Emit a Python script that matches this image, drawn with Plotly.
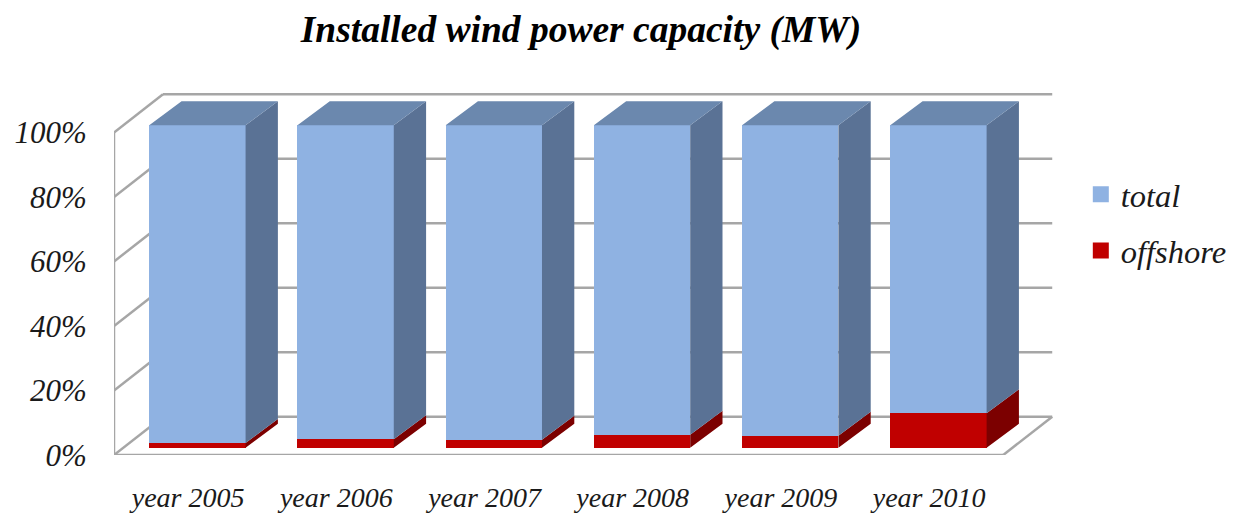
#!/usr/bin/env python3
"""
Installed wind power capacity, 3D looking 100% stacked columns
"""

import plotly.graph_objects as go

# Data
years = ['year 2005', 'year 2006', 'year 2007', 'year 2008', 'year 2009', 'year 2010']
offshore = [1.5, 2.6, 2.5, 4.0, 3.7, 10.7]
total = [98.5, 97.4, 97.5, 96.0, 96.3, 89.3]
y_ticks = [0, 20, 40, 60, 80, 100]
y_labels = ['0%', '20%', '40%', '60%', '80%', '100%']

# Colors
TOTAL_FRONT = '#8fb2e2'
TOTAL_SIDE = '#5a7295'
TOTAL_TOP = '#6b88ae'
OFF_FRONT = '#c00000'
OFF_SIDE = '#7c0000'
WALL = '#a6a6a6'
TEXT = '#1a1a1a'
FONT = 'Liberation Serif'

# Fake 3D geometry, in axis units
BAR_W = 0.65
WALL_DX, WALL_DY = 0.3306, 11.88   # depth of the chart box
FRONT_DX, FRONT_DY = 0.0628, 2.26  # gap between box front and bar front
BAR_DX, BAR_DY = 0.218, 7.44       # depth of one bar
X_LEFT = -0.5
X_RIGHT = X_LEFT + len(years)


def polygons(faces):
    """Join polygons into one x/y pair, split with None"""
    xs, ys = [], []
    for face in faces:
        xs += [p[0] for p in face] + [face[0][0], None]
        ys += [p[1] for p in face] + [face[0][1], None]
    return xs, ys


def face_trace(faces, color):
    xs, ys = polygons(faces)
    return go.Scatter(x=xs, y=ys, mode='none', fill='toself', fillcolor=color,
                      showlegend=False, hoverinfo='skip')


def wall_line(x0, y0, x1, y1):
    return dict(type='line', xref='x', yref='y', x0=x0, y0=y0, x1=x1, y1=y1,
                layer='below', line=dict(color=WALL, width=2.5))


centers = [i + FRONT_DX for i in range(len(years))]
lefts = [c - BAR_W / 2 for c in centers]
rights = [c + BAR_W / 2 for c in centers]

fig = go.Figure()

# Front faces
fig.add_trace(go.Bar(x=centers, y=offshore, base=[FRONT_DY] * len(years), width=BAR_W,
                     marker=dict(color=OFF_FRONT, line=dict(width=0)), showlegend=False))
fig.add_trace(go.Bar(x=centers, y=total, base=[FRONT_DY + v for v in offshore], width=BAR_W,
                     marker=dict(color=TOTAL_FRONT, line=dict(width=0)), showlegend=False))

# Side and top faces
off_side, total_side, total_top = [], [], []
for i in range(len(years)):
    low = FRONT_DY
    mid = FRONT_DY + offshore[i]
    top = mid + total[i]
    r = rights[i]
    off_side.append([(r, low), (r + BAR_DX, low + BAR_DY), (r + BAR_DX, mid + BAR_DY), (r, mid)])
    total_side.append([(r, mid), (r + BAR_DX, mid + BAR_DY), (r + BAR_DX, top + BAR_DY), (r, top)])
    total_top.append([(lefts[i], top), (r, top), (r + BAR_DX, top + BAR_DY), (lefts[i] + BAR_DX, top + BAR_DY)])

fig.add_trace(face_trace(off_side, OFF_SIDE))
fig.add_trace(face_trace(total_side, TOTAL_SIDE))
fig.add_trace(face_trace(total_top, TOTAL_TOP))

# Legend entries
for name, color in [('total', TOTAL_FRONT), ('offshore', OFF_FRONT)]:
    fig.add_trace(go.Scatter(x=[None], y=[None], mode='markers', name=name, legendgroup=name,
                             marker=dict(symbol='square', size=16, color=color)))

# Chart box
shapes = [
    wall_line(X_LEFT, 0, X_LEFT, 100),
    wall_line(X_LEFT, 0, X_RIGHT, 0),
    wall_line(X_RIGHT, 0, X_RIGHT + WALL_DX, WALL_DY),
]
for t in y_ticks:
    shapes.append(wall_line(X_LEFT, t, X_LEFT + WALL_DX, t + WALL_DY))
    shapes.append(wall_line(X_LEFT + WALL_DX, t + WALL_DY, X_RIGHT + WALL_DX, t + WALL_DY))

fig.update_layout(
    title=dict(
        text='Installed wind power capacity (MW)',
        font=dict(family=FONT, size=37.5, color='#000000', style='italic', weight='bold'),
        xref='container', yref='container', x=0.47, y=0.945,
        xanchor='center', yanchor='middle'
    ),
    xaxis=dict(
        range=[X_LEFT, X_LEFT + 6.383],
        tickvals=list(range(len(years))),
        ticktext=years,
        showgrid=False, zeroline=False, showline=False,
        ticks='outside', ticklen=17, tickcolor='rgba(0,0,0,0)',
        tickfont=dict(family=FONT, size=28, color=TEXT, style='italic')
    ),
    yaxis=dict(
        range=[0, 113.2],
        tickvals=y_ticks,
        ticktext=y_labels,
        showgrid=False, zeroline=False, showline=False,
        ticks='outside', ticklen=20, tickcolor='rgba(0,0,0,0)',
        tickfont=dict(family=FONT, size=31, color=TEXT, style='italic')
    ),
    legend=dict(
        x=1.022, y=0.79, xanchor='left', yanchor='top', xref='paper', yref='paper',
        font=dict(family=FONT, size=32.5, color=TEXT, style='italic'),
        itemsizing='trace', tracegroupgap=11, bgcolor='rgba(0,0,0,0)'
    ),
    shapes=shapes,
    barmode='overlay',
    bargap=0,
    plot_bgcolor='#ffffff',
    paper_bgcolor='#ffffff',
    margin=dict(t=90, b=61, l=114, r=176, autoexpand=False),
    width=1236,
    height=516
)

fig.write_html("out.html", config=dict(displayModeBar=False),
               post_script="document.body.style.margin='0';")
